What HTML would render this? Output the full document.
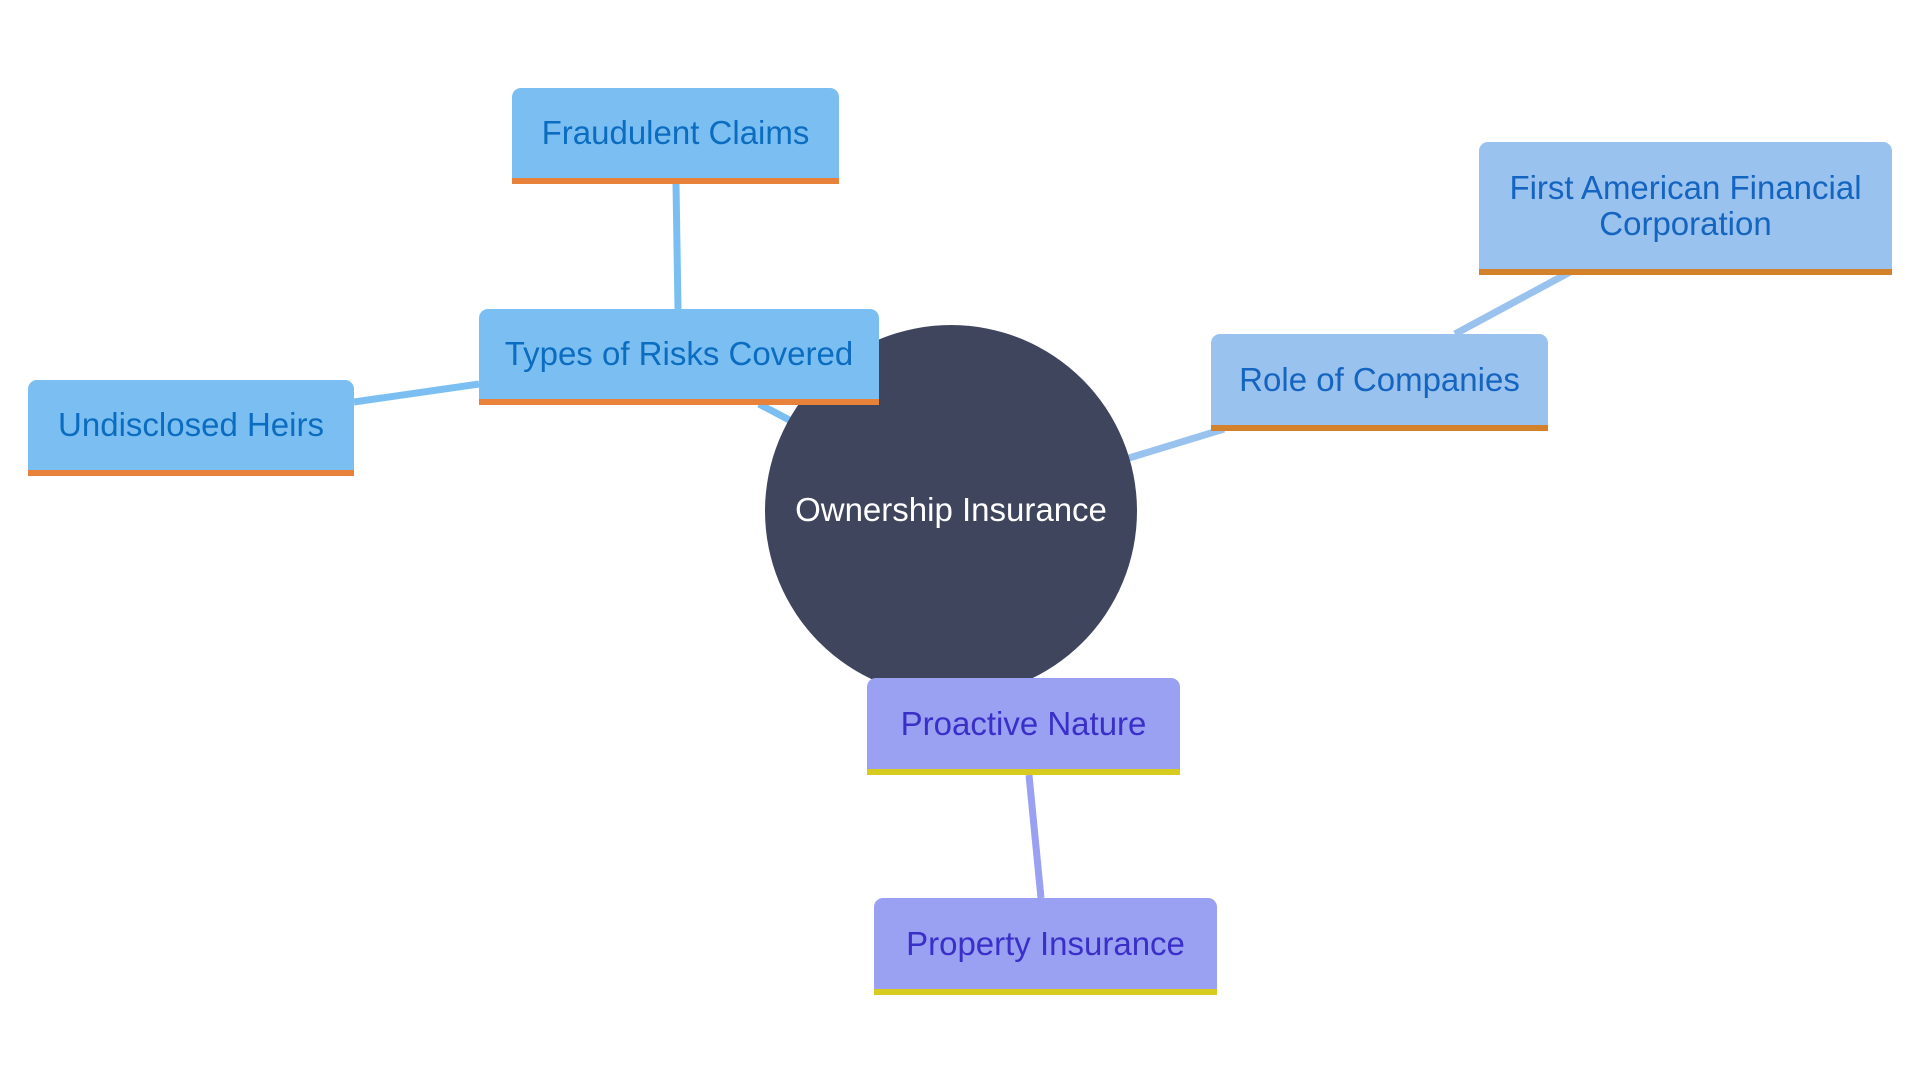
<!DOCTYPE html>
<html><head><style>
body{margin:0;width:1920px;height:1080px;background:#fff;overflow:hidden;position:relative;font-family:"Liberation Sans",sans-serif}
.b{position:absolute;box-sizing:border-box;display:flex;align-items:center;justify-content:center;text-align:center;font-size:33px;border-radius:9px 9px 0 0;line-height:36px}
.c1{background:#7bbff2;color:#0b6cc0;border-bottom:6px solid #e8823a}
.c2{background:#99c2ef;color:#1565c0;border-bottom:6px solid #d4812b}
.c3{background:#9aa0f2;color:#3a2fc8;border-bottom:6px solid #d6cb1e}
</style></head><body>
<svg width="1920" height="1080" style="position:absolute;left:0;top:0">
<g stroke-width="7" fill="none">
<line x1="676" y1="184" x2="678" y2="309" stroke="#7bbff2"/>
<line x1="354" y1="402" x2="479" y2="384" stroke="#7bbff2"/>
<line x1="759" y1="404" x2="795" y2="423" stroke="#7bbff2"/>
<line x1="1129" y1="458" x2="1224" y2="429" stroke="#99c2ef"/>
<line x1="1455" y1="334" x2="1570" y2="272" stroke="#99c2ef"/>
<line x1="1029" y1="775" x2="1041" y2="898" stroke="#9aa0f2"/>
</g>
<circle cx="951" cy="511" r="186" fill="#40455e"/>
<text x="951" y="521" fill="#fff" font-size="33" text-anchor="middle" font-family="Liberation Sans, sans-serif">Ownership Insurance</text>
</svg>
<div class="b c1" style="left:512px;top:88px;width:327px;height:96px">Fraudulent Claims</div>
<div class="b c1" style="left:479px;top:309px;width:400px;height:96px">Types of Risks Covered</div>
<div class="b c1" style="left:28px;top:380px;width:326px;height:96px">Undisclosed Heirs</div>
<div class="b c2" style="left:1211px;top:334px;width:337px;height:97px">Role of Companies</div>
<div class="b c2" style="left:1479px;top:142px;width:413px;height:133px">First American Financial<br>Corporation</div>
<div class="b c3" style="left:867px;top:678px;width:313px;height:97px">Proactive Nature</div>
<div class="b c3" style="left:874px;top:898px;width:343px;height:97px">Property Insurance</div>
</body></html>
